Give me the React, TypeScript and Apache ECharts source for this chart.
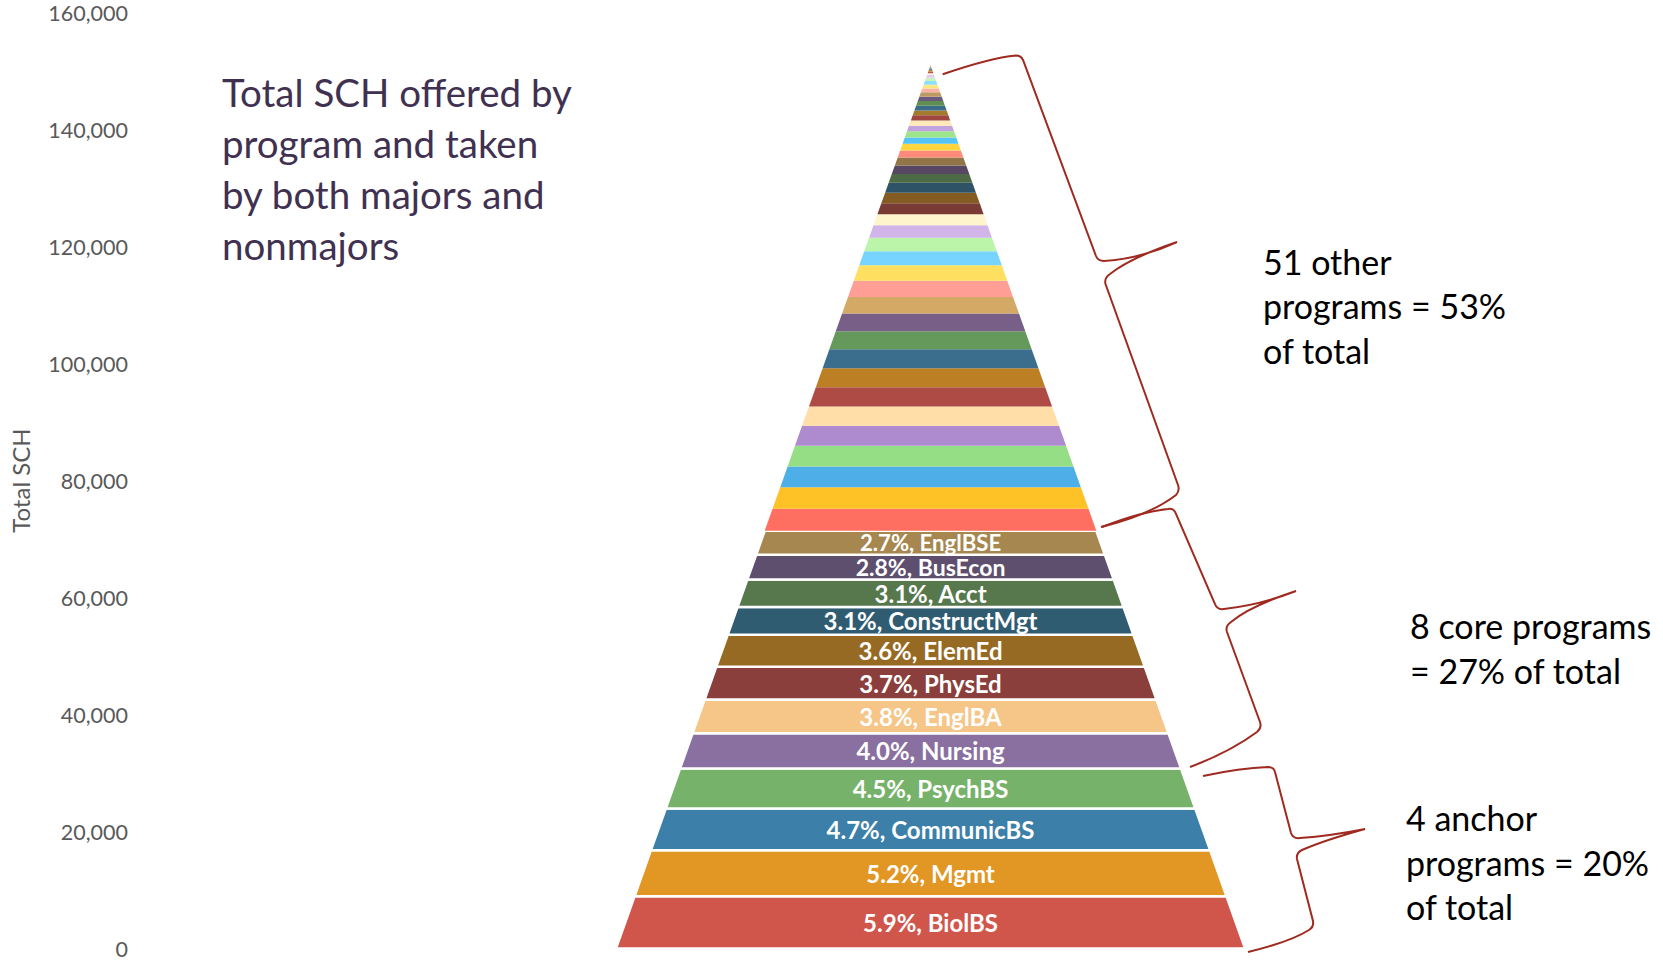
import React, { useEffect, useRef } from "react";
import * as echarts from "echarts";

// ---- data ----
const programs = ["BiolBS", "Mgmt", "CommunicBS", "PsychBS", "Nursing", "EnglBA", "PhysEd", "ElemEd", "ConstructMgt", "Acct", "BusEcon", "EnglBSE"];
const programSCH = [8930, 7880, 7120, 6830, 6060, 5760, 5610, 5460, 4720, 4700, 4250, 4100];
const otherSCH = [
  3760, 3700, 3540, 3520, 3420, 3310, 3300, 3250, 3240, 3060,
  3040, 2850, 2780, 2620, 2390, 2330, 2110, 1890, 1870, 1820,
  1710, 1490, 1470, 1370, 1200, 1140, 1080, 1030, 970, 910,
  860, 840, 820, 790, 750, 730, 680, 640, 620, 570,
  440, 330, 290, 250, 220, 180, 150, 110, 80, 50, 30,
];
const anchorCount = 4;
const coreCount = 8;
const yMin = 0;
const yMax = 160000;
const yStep = 20000;
const yAxisName = "Total SCH";
const titleText = "Total SCH offered by\nprogram and taken\nby both majors and\nnonmajors";

// ---- styles ----
const labeledColors = ["#D0564C", "#E29624", "#3C80AA", "#76B26A", "#8A70A0", "#F5C687", "#8A3F3D", "#976A23", "#305C72", "#56784C", "#5E4F6E", "#A6874F"];
const otherColors = [
  "#FF6F61", "#FEC126", "#4DAEE8", "#96DE85", "#AE8ACF", "#FFDEA8", "#AD4B44", "#BC7F24", "#3B6E8C", "#65985B", "#775F87", "#D4A865",
  "#FF9E94", "#FFDF60", "#76D4FF", "#BAF5AA", "#D1B5E8", "#FFF5CC", "#7A3B36", "#855B24", "#2E5266", "#4B6A45", "#574763", "#917548",
  "#FF8A7A", "#FFD53F", "#55C3F5", "#9CE58A", "#C0A3DC", "#FFE9B8", "#9E463F", "#A57A2C", "#3A6B88", "#5E8E52", "#6A5A7E", "#BC9A64",
  "#FFB3A8", "#FFE680", "#8CDFFF", "#C8F5BC", "#E0CCF0", "#FFF0D0", "#B5574F", "#C9862D", "#4A88A8", "#7BB070", "#8E78A5", "#E0B878",
  "#E65A4F", "#F0A030", "#5090C0",
];
const braceColor = "#9E2A20";

const brace1 =
  "M 942.7 74.3 Q 990 58 1016 55.5 Q 1021 55.5 1023 60 L 1096 256 Q 1098 261 1104 261 Q 1140 259 1177 242 " +
  "Q 1130 258 1110 274 Q 1104 278 1105.5 284 L 1178 485 Q 1180 491 1176 495 Q 1150 515 1101 527";
const brace2 =
  "M 1102 527 Q 1140 512 1168 509 Q 1174 508 1176 514 L 1215 604 Q 1217 610 1224 609 Q 1260 605 1296 591 " +
  "Q 1250 606 1231 622 Q 1225 626 1227 632 L 1260 722 Q 1262 728 1257 732 Q 1230 752 1190 767";
const brace3 =
  "M 1203 776 Q 1240 768 1268 767 Q 1274 767 1275 772 L 1291 833 Q 1293 839 1300 838 Q 1330 836 1365 829 " +
  "Q 1325 840 1302 850 Q 1296 853 1297 859 L 1313 921 Q 1314 927 1309 930 Q 1290 942 1248 952";

let registered = false;
function registerBraces() {
  if (registered) return;
  registered = true;
  (echarts as any).graphic.registerShape("brace1", (echarts as any).graphic.extendPath(brace1, {}));
  (echarts as any).graphic.registerShape("brace2", (echarts as any).graphic.extendPath(brace2, {}));
  (echarts as any).graphic.registerShape("brace3", (echarts as any).graphic.extendPath(brace3, {}));
}

export default function App() {
  const ref = useRef<HTMLDivElement>(null);

  useEffect(() => {
    if (!ref.current) return;
    registerBraces();
    const chart = echarts.init(ref.current, null, { renderer: "svg" });

    const allValues = [...programSCH, ...otherSCH];
    const total = allValues.reduce((a, b) => a + b, 0);
    const colors = [...labeledColors, ...otherColors];
    const data: number[][] = [];
    let cum = 0;
    allValues.forEach((v, i) => {
      data.push([i, cum, cum + v, v]);
      cum += v;
    });
    const sum = (arr: number[]) => arr.reduce((a, b) => a + b, 0);
    const anchorPct = Math.round((sum(programSCH.slice(0, anchorCount)) / total) * 100);
    const corePct = Math.round((sum(programSCH.slice(anchorCount, anchorCount + coreCount)) / total) * 100);
    const otherPct = Math.round((sum(otherSCH) / total) * 100);
    const baseHalf = 1.008;

    const textStyle = (text: string, x: number, y: number, size: number, lh: number, fill: string) => ({
      type: "text",
      x,
      y,
      style: { text, fill, fontSize: size, fontFamily: "Lato", lineHeight: lh, align: "left", verticalAlign: "top" },
    });

    const option: any = {
      animation: false,
      backgroundColor: "#ffffff",
      grid: { left: 137, right: 0, top: 12.7, bottom: 11.5 },
      xAxis: { type: "value", min: -2.533, max: 2.347, show: false },
      yAxis: {
        type: "value",
        min: yMin,
        max: yMax,
        interval: yStep,
        name: yAxisName,
        nameLocation: "middle",
        nameRotate: 90,
        nameGap: 108,
        nameTextStyle: { color: "#595959", fontSize: 24, fontFamily: "Lato" },
        axisLine: { show: false },
        axisTick: { show: false },
        splitLine: { show: false },
        axisLabel: {
          color: "#595959",
          fontSize: 21.5,
          lineHeight: 18,
          fontFamily: "Lato",
          margin: 12,
          formatter: (v: number) => v.toLocaleString("en-US"),
        },
      },
      series: [
        {
          type: "custom",
          data,
          encode: { x: -1, y: [1, 2] },
          renderItem: (params: any, api: any) => {
            const idx = api.value(0);
            const s = api.value(1);
            const e = api.value(2);
            const v = api.value(3);
            const hs = baseHalf * (1 - s / total);
            const he = baseHalf * (1 - e / total);
            const a = api.coord([-hs, s]);
            const b = api.coord([hs, s]);
            const c = api.coord([he, e]);
            const d = api.coord([-he, e]);
            const labeled = idx < programs.length;
            const children: any[] = [
              {
                type: "polygon",
                shape: { points: [a, b, c, d] },
                style: { fill: colors[idx], stroke: labeled ? "#ffffff" : null, lineWidth: labeled ? 2.5 : 0 },
              },
            ];
            if (labeled) {
              const segH = Math.abs(a[1] - c[1]);
              const fs = Math.min(24, segH - 1.8);
              children.push({
                type: "text",
                x: (a[0] + b[0]) / 2,
                y: (a[1] + c[1]) / 2,
                style: {
                  text: `${((v / total) * 100).toFixed(1)}%, ${programs[idx]}`,
                  fill: "#ffffff",
                  fontSize: fs,
                  lineHeight: Math.min(19, fs - 4),
                  fontWeight: "bold",
                  fontFamily: "Lato",
                  align: "center",
                  verticalAlign: "middle",
                },
              });
            }
            return { type: "group", children };
          },
        },
      ],
      graphic: [
        textStyle(titleText, 222, 66.8, 38.5, 51, "#403151"),
        textStyle(`${otherSCH.length} other\nprograms = ${otherPct}%\nof total`, 1263, 238.8, 34, 44.5, "#000000"),
        textStyle(`${coreCount} core programs\n= ${corePct}% of total`, 1410, 603.5, 34, 44.5, "#000000"),
        textStyle(`${anchorCount} anchor\nprograms = ${anchorPct}%\nof total`, 1406, 795.5, 34, 44.5, "#000000"),
        { type: "brace1", x: 0, y: 0, style: { fill: "none", stroke: braceColor, lineWidth: 2 } },
        { type: "brace2", x: 0, y: 0, style: { fill: "none", stroke: braceColor, lineWidth: 2 } },
        { type: "brace3", x: 0, y: 0, style: { fill: "none", stroke: braceColor, lineWidth: 2 } },
      ],
    };
    chart.setOption(option);
    return () => chart.dispose();
  }, []);

  return <div ref={ref} style={{ position: "fixed", left: 0, top: 0, width: 1663, height: 960 }} />;
}
